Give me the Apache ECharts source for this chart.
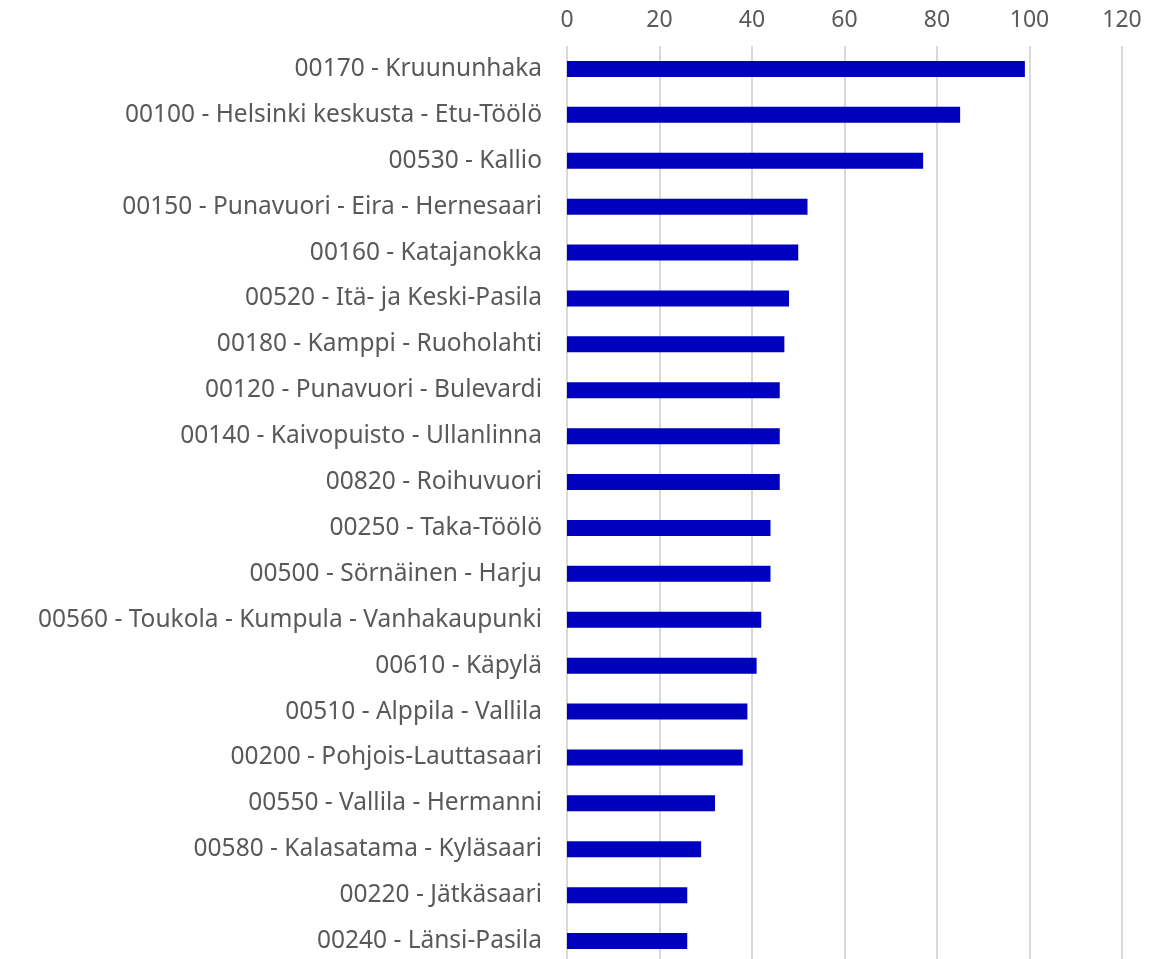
<!DOCTYPE html>
<html>
<head>
<meta charset="utf-8">
<script src="https://cdn.jsdelivr.net/npm/echarts@6/dist/echarts.min.js"></script>
<style>
html, body { margin: 0; padding: 0; background: #fff; }
#main { width: 1173px; height: 959px; }
</style>
</head>
<body>
<div id="main"></div>
<script>
// postinumeroalueet, ylhäältä alas
var areas = [
	'00170 - Kruununhaka',
	'00100 - Helsinki keskusta - Etu-Töölö',
	'00530 - Kallio',
	'00150 - Punavuori - Eira - Hernesaari',
	'00160 - Katajanokka',
	'00520 - Itä- ja Keski-Pasila',
	'00180 - Kamppi - Ruoholahti',
	'00120 - Punavuori - Bulevardi',
	'00140 - Kaivopuisto - Ullanlinna',
	'00820 - Roihuvuori',
	'00250 - Taka-Töölö',
	'00500 - Sörnäinen - Harju',
	'00560 - Toukola - Kumpula - Vanhakaupunki',
	'00610 - Käpylä',
	'00510 - Alppila - Vallila',
	'00200 - Pohjois-Lauttasaari',
	'00550 - Vallila - Hermanni',
	'00580 - Kalasatama - Kyläsaari',
	'00220 - Jätkäsaari',
	'00240 - Länsi-Pasila'
];
var values = [99, 85, 77, 52, 50, 48, 47, 46, 46, 46, 44, 44, 42, 41, 39, 38, 32, 29, 26, 26];

var chartDom = document.getElementById('main');
var myChart = echarts.init(chartDom, null, { renderer: 'canvas' });

var option = {
	animation : false,
	textStyle : {
		fontFamily : 'Noto Sans'
	},
	grid : {
		left : 567,
		right : 51,
		top : 46,
		height : 918,
		containLabel : false,
		outerBoundsMode : 'none'
	},
	xAxis : {
		type : 'value',
		position : 'top',
		min : 0,
		max : 120,
		interval : 20,
		axisLine : { show : false },
		axisTick : { show : false },
		axisLabel : {
			color : '#595959',
			fontSize : 23,
			margin : 14
		},
		splitLine : {
			lineStyle : { color : '#d9d9d9', width : 2 }
		}
	},
	yAxis : {
		type : 'category',
		inverse : true,
		data : areas,
		axisLine : { show : false },
		axisTick : { show : false },
		axisLabel : {
			color : '#595959',
			fontSize : 24.5,
			margin : 25
		}
	},
	series : [{
		type : 'bar',
		data : values,
		barWidth : 16,
		itemStyle : {
			color : '#0000BF'
		}
	}]
};

option && myChart.setOption(option);
</script>
</body>
</html>
